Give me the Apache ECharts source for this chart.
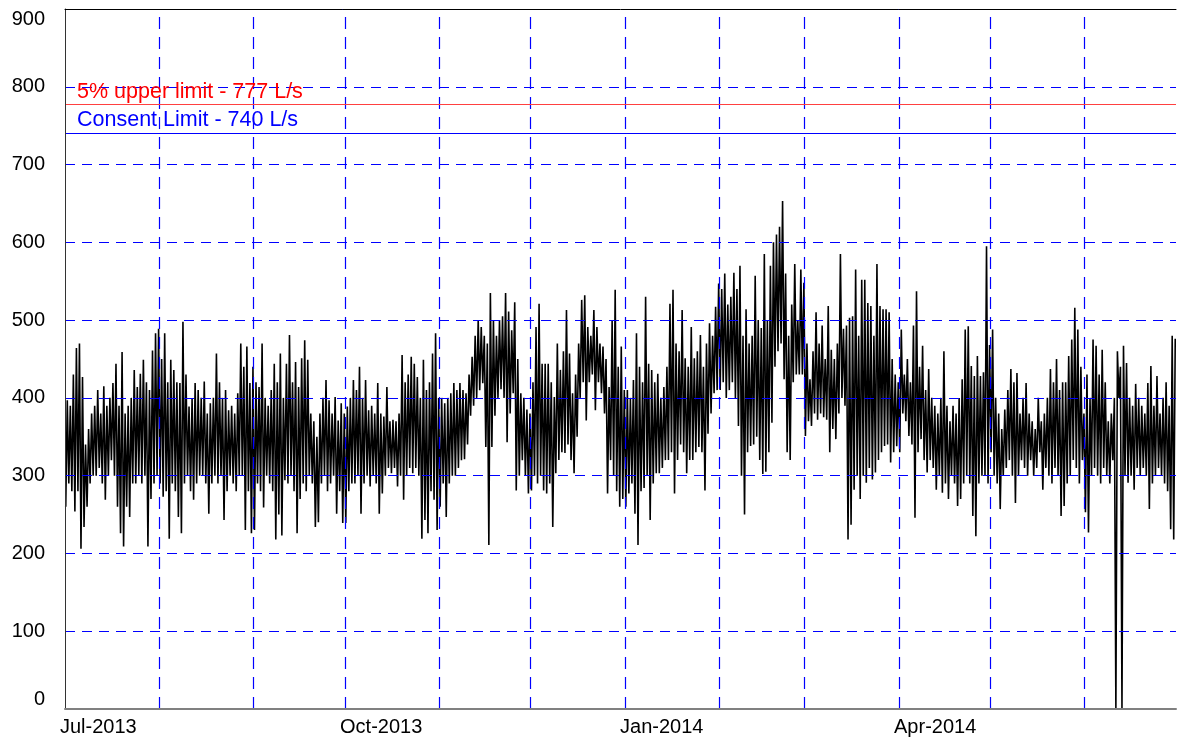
<!DOCTYPE html>
<html>
<head>
<meta charset="utf-8">
<script src="https://cdn.jsdelivr.net/npm/echarts@6.0.0/dist/echarts.min.js"></script>
<style>
html,body{margin:0;padding:0;background:#fff;}
#chart{width:1177px;height:740px;}
</style>
</head>
<body>
<div id="chart"></div>
<script>
// ---- data ----
const startDate = '2013-07-01';
const endDate = '2014-07-01';
const monthStarts = ['2013-08-01','2013-09-01','2013-10-01','2013-11-01','2013-12-01','2014-01-01','2014-02-01','2014-03-01','2014-04-01','2014-05-01','2014-06-01'];
const tickDates = ['2013-07-01','2013-10-01','2014-01-01','2014-04-01'];
const tickLabels = ['Jul-2013','Oct-2013','Jan-2014','Apr-2014'];
const yTicks = [0,100,200,300,400,500,600,700,800,900];
const limitValues = [777, 740];
const limitNames = ['5% upper limit - 777 L/s', 'Consent Limit - 740 L/s'];

// daily peak flows (L/s), Jul-2013 .. Jun-2014
const dayHigh = [
 397,390,430,464,470,427,340,360,380,390,410,380,415,390,400,419,444,390,459,380,390,400,436,414,431,449,420,410,461,483,489,
 450,483,420,449,436,420,419,498,430,389,400,419,410,400,421,380,393,400,457,420,400,410,384,390,380,406,470,440,466,419,440,
 420,414,470,400,390,410,444,420,457,400,444,481,420,446,414,451,474,449,380,370,350,380,400,423,397,380,401,371,393,380,
 389,400,423,410,440,400,423,384,390,380,419,380,376,414,370,372,370,380,455,420,430,453,444,427,400,449,410,420,457,483,400,
 400,393,400,406,419,410,419,410,406,430,453,480,500,491,480,470,535,500,480,500,505,535,511,487,523,450,406,400,385,380,
 420,491,521,444,444,444,420,401,470,436,460,513,457,406,430,470,526,532,491,480,513,491,470,466,450,414,500,539,440,466,410,
 410,400,423,483,440,420,530,444,436,420,431,400,414,440,521,539,470,460,513,451,440,491,451,460,481,440,470,496,480,517,547,
 540,560,520,530,561,540,570,480,514,470,480,557,500,490,585,500,570,600,610,620,653,560,480,520,572,500,565,548,
 470,424,460,510,470,493,450,518,462,450,470,585,489,493,503,505,565,480,552,552,522,518,480,572,518,514,514,510,450,430,420,
 488,430,450,420,493,537,440,467,410,437,400,390,380,400,460,390,370,390,380,400,424,488,492,441,428,454,428,433,595,468,
 488,400,380,360,385,410,437,420,432,380,400,419,380,370,360,400,370,380,400,437,420,450,410,420,420,454,475,516,488,440,380,
 430,400,475,467,430,462,420,370,380,400,460,440,467,445,400,390,418,400,390,380,419,441,390,428,380,400,420,390,480,476
];
// daily minimum flows (L/s)
const dayLow = [
 260,290,280,254,280,206,234,260,290,300,300,310,290,269,300,320,300,260,226,209,260,247,290,290,300,290,300,209,270,290,300,
 290,273,280,219,290,280,247,226,290,300,280,269,290,300,300,290,251,290,300,290,300,243,280,300,290,280,300,300,230,280,226,
 230,290,280,259,300,290,280,218,250,223,294,290,300,280,226,270,290,280,300,290,234,240,290,300,280,290,300,251,280,239,
 239,280,290,290,300,251,290,300,286,300,290,251,277,300,310,303,310,286,300,269,300,310,303,310,300,219,243,226,280,269,230,
 260,290,247,290,300,300,310,320,321,340,377,390,400,410,419,337,211,337,377,400,411,400,343,380,406,281,300,320,300,277,
 281,300,290,300,281,277,290,234,303,320,330,329,340,320,303,350,400,420,371,420,430,384,420,406,380,277,320,300,280,260,270,
 260,277,290,251,211,280,284,300,243,290,303,303,310,320,320,330,277,320,340,330,303,320,320,330,337,330,281,354,380,406,410,
 410,420,400,410,420,400,364,300,250,330,338,340,350,320,302,305,330,368,440,460,470,424,330,320,420,430,430,430,
 351,370,364,380,372,380,375,372,330,360,347,380,400,390,218,237,282,300,270,300,291,310,295,304,320,330,338,340,317,330,338,
 330,380,370,351,340,246,330,347,320,304,320,310,282,300,278,290,270,300,290,261,270,290,300,290,248,222,290,300,300,290,
 330,300,290,257,300,310,320,300,265,300,320,310,300,320,300,310,330,282,310,300,290,310,300,248,261,290,300,320,310,290,320,
 253,227,300,310,300,290,310,300,290,320,0,400,0,300,291,300,282,310,300,310,300,257,290,300,310,300,290,280,231,218
];

// ---- build ----
const DAY = 86400000;
const dayOf = s => (Date.parse(s) - Date.parse(startDate)) / DAY;
const xMax = dayOf(endDate);
const monthDays = monthStarts.map(dayOf);
const tickDays = tickDates.map(dayOf);
const labelMap = {};
tickDays.forEach((d, i) => { labelMap[d] = tickLabels[i]; });

const flow = [];
for (let d = 0; d < dayHigh.length; d++) {
  flow.push([d + 0.25, dayLow[d]]);
  flow.push([d + 0.75, dayHigh[d]]);
}

const FONT = 'Liberation Sans, Arial, sans-serif';
const GRID_BLUE = '#0000ff';
const chart = echarts.init(document.getElementById('chart'), null, {renderer: 'canvas'});
chart.setOption({
  animation: false,
  backgroundColor: '#fff',
  grid: {left: 65, right: 1, top: 9, bottom: 31, containLabel: false},
  xAxis: [{
    type: 'value', min: 0, max: xMax, z: 5,
    axisLine: {show: true, onZero: false, lineStyle: {color: '#808080', width: 2}},
    axisTick: {show: false},
    splitLine: {show: false},
    axisLabel: {
      customValues: tickDays,
      formatter: v => labelMap[v] || '',
      align: 'left', padding: [0, 0, 0, -5],
      fontSize: 20, color: '#000', fontFamily: FONT, margin: 8
    }
  }, {
    type: 'value', min: 0, max: xMax, position: 'top', z: 6,
    axisLine: {show: true, onZero: false, lineStyle: {color: '#000', width: 1}},
    axisTick: {show: false}, axisLabel: {show: false}, splitLine: {show: false}
  }],
  yAxis: {
    type: 'value', min: yTicks[0], max: yTicks[yTicks.length - 1], interval: 100, z: 5,
    axisLine: {show: true, lineStyle: {color: '#333', width: 1}},
    axisTick: {show: false},
    axisLabel: {
      fontSize: 20, color: '#000', fontFamily: FONT, margin: 20,
      verticalAlignMinLabel: 'bottom', verticalAlignMaxLabel: 'top'
    },
    splitLine: {show: true, lineStyle: {color: GRID_BLUE, width: 1, type: [10, 7]}}
  },
  series: [{
    type: 'line', name: 'flow', data: flow, showSymbol: false, symbol: 'none',
    sampling: false, z: 2,
    lineStyle: {color: '#000', width: 1.6}
  }, {
    type: 'line', name: 'grid', data: [], z: 4, silent: true,
    markLine: {
      silent: true, symbol: ['none', 'none'], animation: false,
      label: {show: false},
      lineStyle: {color: GRID_BLUE, width: 1.2, type: [12, 8]},
      data: monthDays.map(d => ({xAxis: d}))
    }
  }, {
    type: 'line', name: 'limits', data: [], z: 6, silent: true,
    markLine: {
      silent: true, symbol: ['none', 'none'], animation: false,
      data: limitValues.map((v, i) => ({
        yAxis: v,
        lineStyle: {color: i === 0 ? '#ff4040' : '#0000ff', width: 1.2, type: 'solid'},
        label: {
          show: true, position: 'insideStartTop', formatter: limitNames[i],
          color: i === 0 ? '#ff0000' : '#0000ff', fontSize: 21.5, fontFamily: FONT,
          distance: [12, 2]
        }
      }))
    }
  }]
});
</script>
</body>
</html>
